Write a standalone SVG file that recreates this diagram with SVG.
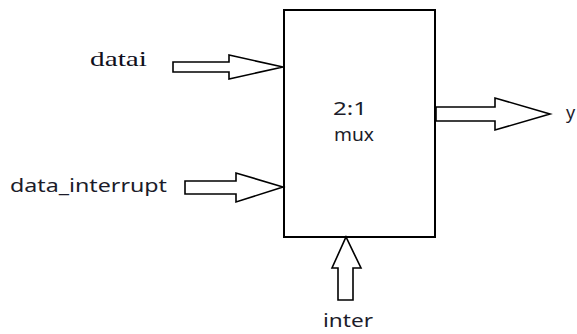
<svg xmlns="http://www.w3.org/2000/svg" width="577" height="334" viewBox="0 0 577 334">
<style>
.box{fill:#fff;stroke:#000;stroke-width:2}
.arr{fill:#fff;stroke:#000;stroke-width:1.6;stroke-linejoin:miter}
.sans{font-family:"Noto Sans","Open Sans","DejaVu Sans",sans-serif;font-size:18px;fill:#1c1c2a}
.serif{font-family:"Liberation Serif","Times New Roman",serif;font-size:22px;fill:#10101c}
</style>
<rect width="577" height="334" fill="#fff"/>
<g id="mux">
<rect class="box" x="284" y="10" width="151" height="227"/>
<text class="sans" x="333" y="115" textLength="34" lengthAdjust="spacingAndGlyphs">2:1</text>
<text class="sans" x="334" y="141" textLength="40" lengthAdjust="spacingAndGlyphs">mux</text>
</g>
<g id="datai">
<text class="serif" x="90" y="66" textLength="57" lengthAdjust="spacingAndGlyphs">datai</text>
</g>
<g id="data_interrupt">
<text class="sans" x="10" y="192" textLength="157" lengthAdjust="spacingAndGlyphs">data_interrupt</text>
</g>
<g id="inter">
<text class="sans" x="323" y="327" textLength="50" lengthAdjust="spacingAndGlyphs">inter</text>
</g>
<g id="y">
<text class="sans" x="566" y="119">y</text>
</g>
<g id="connectors">
<path class="arr" d="M173,62 H229 V55 L283,67 L229,79 V72 H173 Z"/>
<path class="arr" d="M185,181 H236 V173 L283,187 L236,202 V194 H185 Z"/>
<path class="arr" d="M436,107 H495 V98 L550,114 L495,130 V121 H436 Z"/>
<path class="arr" d="M338,300 V268 H332 L346,237 L361,268 H353 V300 Z"/>
</g>
</svg>
